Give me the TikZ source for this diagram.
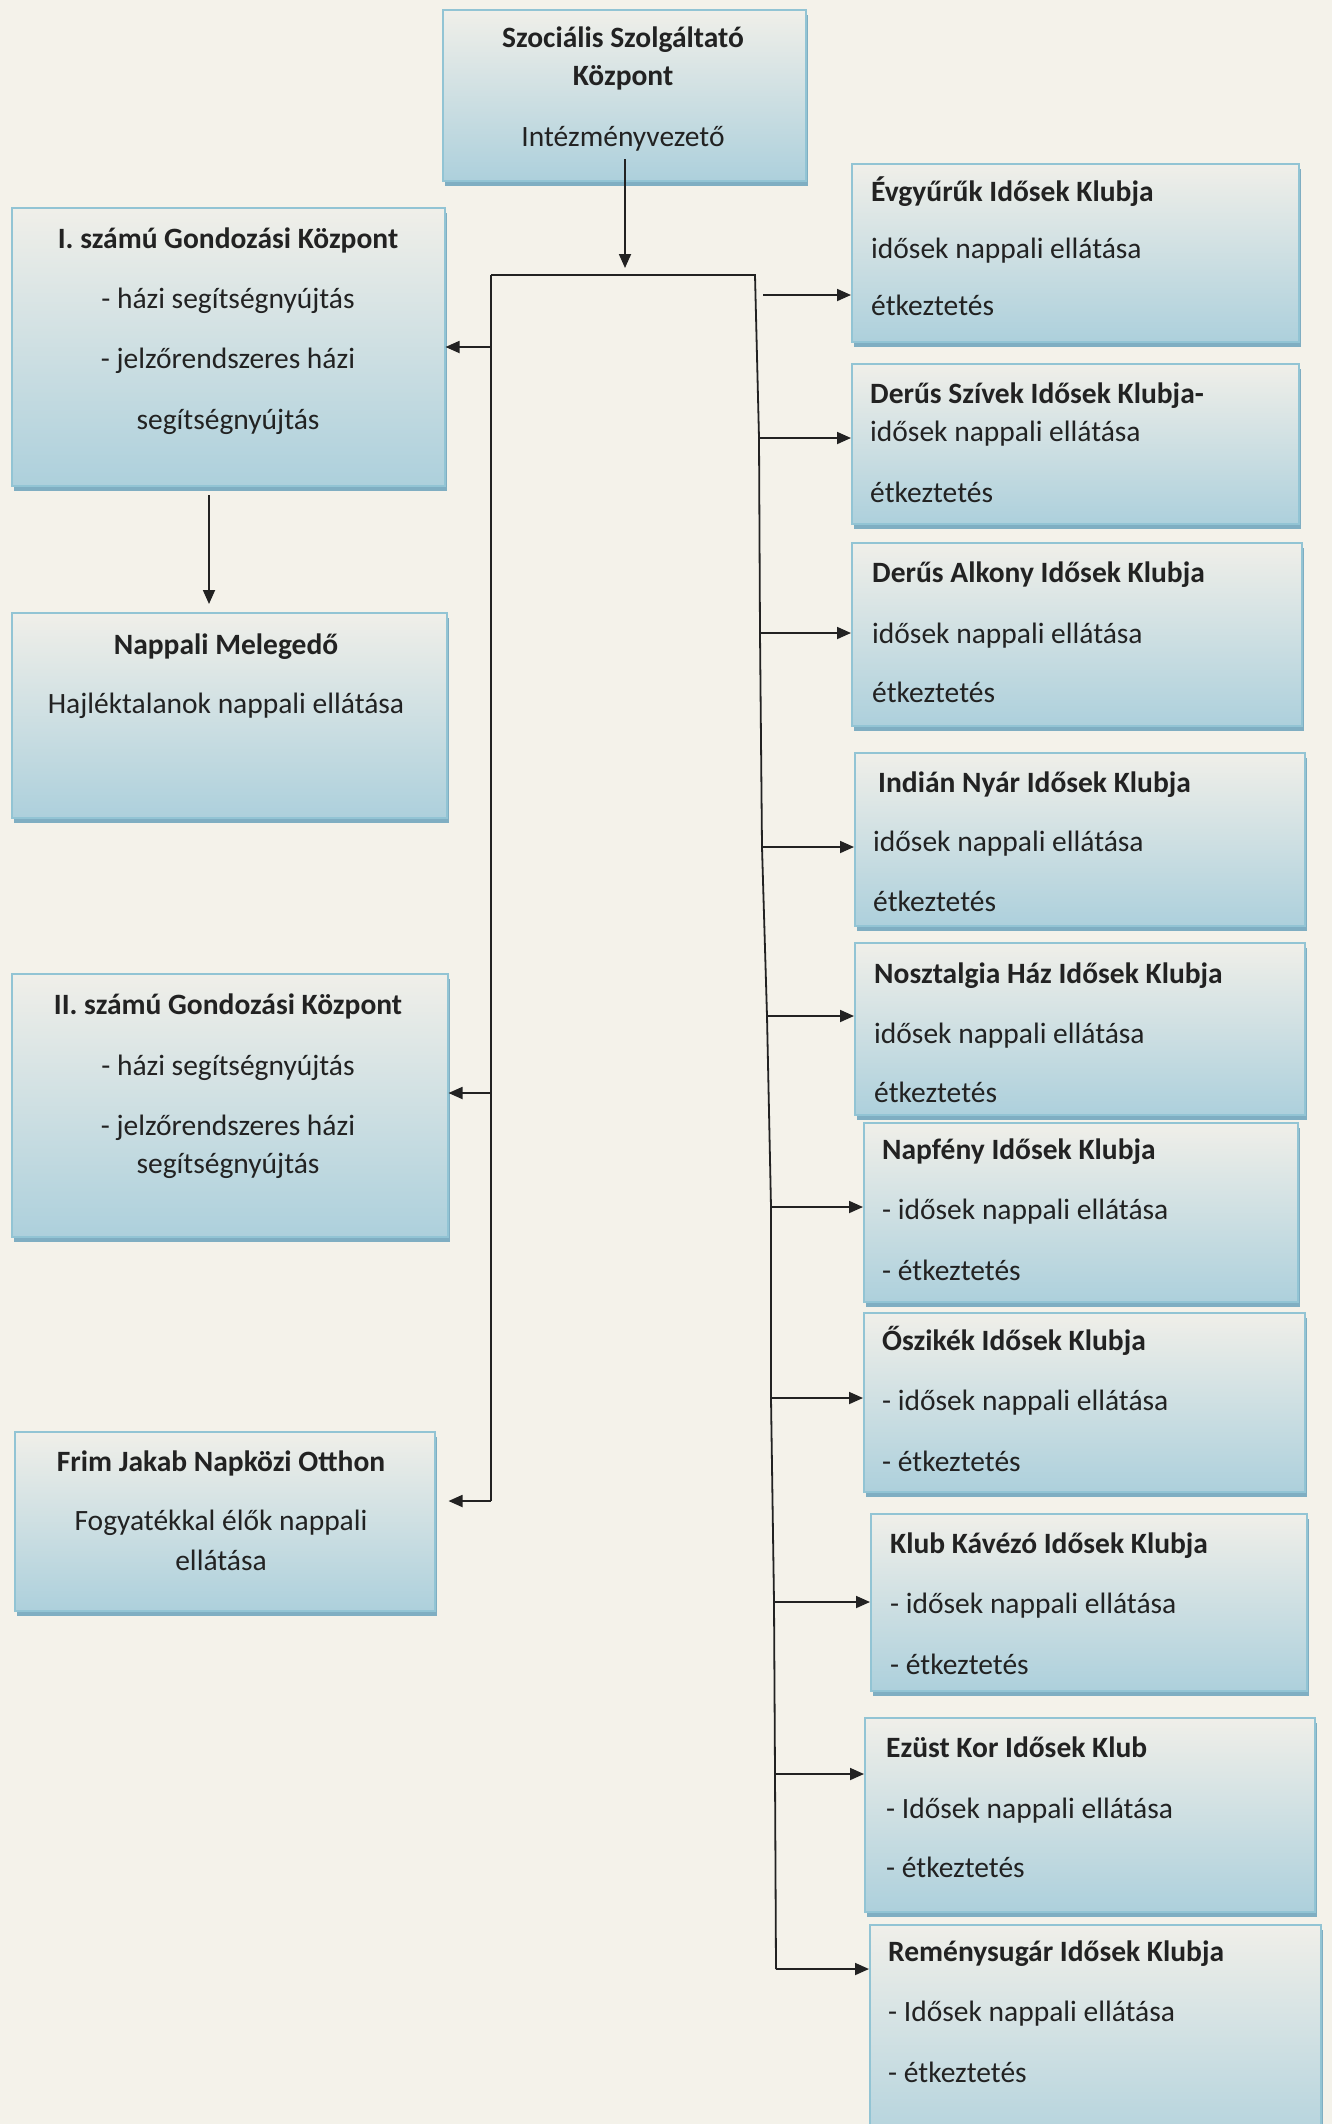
\documentclass[tikz,border=0pt]{standalone}
\usepackage{fontspec}
\setmainfont{Carlito}
\usetikzlibrary{arrows.meta,shadows,calc}
\definecolor{paper}{HTML}{F4F2EA}
\definecolor{boxtop}{HTML}{F0EFE9}
\definecolor{boxbot}{HTML}{ADD0DC}
\definecolor{boxedge}{HTML}{92C4D4}
\definecolor{shadowc}{HTML}{7FAEC2}
\definecolor{ink}{HTML}{222222}
\tikzset{
 box/.style={rectangle, draw=boxedge, line width=1.5bp, top color=boxtop, bottom color=boxbot, inner sep=0pt, anchor=north west,
   general shadow={fill=shadowc, shadow xshift=2bp, shadow yshift=-5bp}},
 ttl/.style={font=\bfseries\fontsize{29.5bp}{34bp}\selectfont, text=ink, inner sep=0pt},
 txt/.style={font=\fontsize{29.5bp}{34bp}\selectfont, text=ink, inner sep=0pt},
 arr/.style={draw=ink, line width=1.8bp, -{Triangle[length=14bp,width=12bp]}},
 ln/.style={draw=ink, line width=1.8bp},
}
\begin{document}
\begin{tikzpicture}[x=1bp,y=-1bp]
\fill[paper] (0,0) rectangle (1332,2124);
\useasboundingbox (0,0) rectangle (1332,2124);
% boxes
\node[box, minimum width=363bp, minimum height=171bp] (top) at (442,9) {};
\node[box, minimum width=433bp, minimum height=278bp] (g1) at (11,207) {};
\node[box, minimum width=435bp, minimum height=205bp] (np) at (11,612) {};
\node[box, minimum width=436bp, minimum height=263bp] (g2) at (11,973) {};
\node[box, minimum width=420bp, minimum height=179bp] (fr) at (14,1431) {};
\node[box, minimum width=447bp, minimum height=178bp] (r1) at (851,163) {};
\node[box, minimum width=447bp, minimum height=160bp] (r2) at (851,363) {};
\node[box, minimum width=450bp, minimum height=183bp] (r3) at (851,542) {};
\node[box, minimum width=450bp, minimum height=173bp] (r4) at (854,752) {};
\node[box, minimum width=450bp, minimum height=172bp] (r5) at (854,942) {};
\node[box, minimum width=434bp, minimum height=179bp] (r6) at (863,1122) {};
\node[box, minimum width=441bp, minimum height=179bp] (r7) at (863,1312) {};
\node[box, minimum width=436bp, minimum height=177bp] (r8) at (870,1513) {};
\node[box, minimum width=450bp, minimum height=194bp] (r9) at (864,1717) {};
\node[box, minimum width=451bp, minimum height=240bp] (r10) at (869,1924) {};
% texts top
\node[ttl, anchor=base] (ta) at (623,47) {Szociális Szolgáltató};
\node[ttl, anchor=base] (tb) at (623,85) {Központ};
\node[txt, anchor=base] (tc) at (623,146) {Intézményvezető};
% left boxes
\node[ttl, anchor=base] (g1a) at (228,248) {I. számú Gondozási Központ};
\node[txt, anchor=base] (g1b) at (228,308) {- házi segítségnyújtás};
\node[txt, anchor=base] (g1c) at (228,368) {- jelzőrendszeres házi};
\node[txt, anchor=base] (g1d) at (228,429) {segítségnyújtás};
\node[ttl, anchor=base] (npa) at (226,654) {Nappali Melegedő};
\node[txt, anchor=base] (npb) at (226,713) {Hajléktalanok nappali ellátása};
\node[ttl, anchor=base] (g2a) at (228,1014) {II. számú Gondozási Központ};
\node[txt, anchor=base] (g2b) at (228,1075) {- házi segítségnyújtás};
\node[txt, anchor=base] (g2c) at (228,1135) {- jelzőrendszeres házi};
\node[txt, anchor=base] (g2d) at (228,1173) {segítségnyújtás};
\node[ttl, anchor=base] (fra) at (221,1471) {Frim Jakab Napközi Otthon};
\node[txt, anchor=base] (frb) at (221,1530) {Fogyatékkal élők nappali};
\node[txt, anchor=base] (frc) at (221,1570) {ellátása};
% right boxes
\node[ttl, anchor=base west] (r1a) at (871,201) {Évgyűrűk Idősek Klubja};
\node[txt, anchor=base west] (r1b) at (871,258) {idősek nappali ellátása};
\node[txt, anchor=base west] (r1c) at (871,315) {étkeztetés};
\node[ttl, anchor=base west] (r2a) at (870,403) {Derűs Szívek Idősek Klubja-};
\node[txt, anchor=base west] (r2b) at (870,441) {idősek nappali ellátása};
\node[txt, anchor=base west] (r2c) at (870,502) {étkeztetés};
\node[ttl, anchor=base west] (r3a) at (872,582) {Derűs Alkony Idősek Klubja};
\node[txt, anchor=base west] (r3b) at (872,643) {idősek nappali ellátása};
\node[txt, anchor=base west] (r3c) at (872,702) {étkeztetés};
\node[ttl, anchor=base west] (r4a) at (878,792) {Indián Nyár Idősek Klubja};
\node[txt, anchor=base west] (r4b) at (873,851) {idősek nappali ellátása};
\node[txt, anchor=base west] (r4c) at (873,911) {étkeztetés};
\node[ttl, anchor=base west] (r5a) at (874,983) {Nosztalgia Ház Idősek Klubja};
\node[txt, anchor=base west] (r5b) at (874,1043) {idősek nappali ellátása};
\node[txt, anchor=base west] (r5c) at (874,1102) {étkeztetés};
\node[ttl, anchor=base west] (r6a) at (882,1159) {Napfény Idősek Klubja};
\node[txt, anchor=base west] (r6b) at (882,1219) {- idősek nappali ellátása};
\node[txt, anchor=base west] (r6c) at (882,1280) {- étkeztetés};
\node[ttl, anchor=base west] (r7a) at (882,1350) {Őszikék Idősek Klubja};
\node[txt, anchor=base west] (r7b) at (882,1410) {- idősek nappali ellátása};
\node[txt, anchor=base west] (r7c) at (882,1471) {- étkeztetés};
\node[ttl, anchor=base west] (r8a) at (890,1553) {Klub Kávézó Idősek Klubja};
\node[txt, anchor=base west] (r8b) at (890,1613) {- idősek nappali ellátása};
\node[txt, anchor=base west] (r8c) at (890,1674) {- étkeztetés};
\node[ttl, anchor=base west] (r9a) at (886,1757) {Ezüst Kor Idősek Klub};
\node[txt, anchor=base west] (r9b) at (886,1818) {- Idősek nappali ellátása};
\node[txt, anchor=base west] (r9c) at (886,1877) {- étkeztetés};
\node[ttl, anchor=base west] (r10a) at (888,1961) {Reménysugár Idősek Klubja};
\node[txt, anchor=base west] (r10b) at (888,2021) {- Idősek nappali ellátása};
\node[txt, anchor=base west] (r10c) at (888,2082) {- étkeztetés};
% connector coordinates
\coordinate (dstart) at (625,159);
\coordinate (dend) at (625,268);
\coordinate (hl) at (491,275);
\coordinate (hr) at (755,275);
\coordinate (l1) at (491,347);
\coordinate (l2) at (491,1093);
\coordinate (l3) at (491,1501);
\coordinate (s1) at (763,295);
\coordinate (s2) at (759,438);
\coordinate (s3) at (760,633);
\coordinate (s4) at (762,847);
\coordinate (s5) at (767,1016);
\coordinate (s6) at (771,1207);
\coordinate (s7) at (771,1398);
\coordinate (s8) at (774,1602);
\coordinate (s9) at (775,1774);
\coordinate (s10) at (776,1969);
\coordinate (d1) at (209,495);
% connectors
\draw[arr] (dstart) -- (dend);
\draw[ln] (hl) -- (hr) -- (s2) -- (s3) -- (s4) -- (s5) -- (s6) -- (s7) -- (s8) -- (s9) -- (s10);
\draw[ln] (hl) -- (l3);
\draw[arr] (l1) -- (g1.east |- l1);
\draw[arr] (l2) -- (g2.east |- l2);
\draw[arr, shorten >=13bp] (l3) -- (fr.east |- l3);
\draw[arr, shorten >=8bp] (d1) -- (d1 |- np.north);
\foreach \i in {1,...,10} {
  \draw[arr] (s\i) -- (r\i.west |- s\i);
}
\end{tikzpicture}
\end{document}
